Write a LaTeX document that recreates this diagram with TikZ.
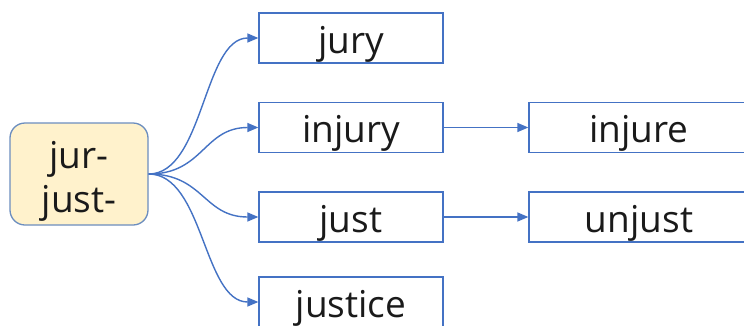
\documentclass[tikz,border=0pt]{standalone}
\usepackage{fontspec}
\setmainfont{Open Sans}
\usetikzlibrary{arrows.meta}
\definecolor{lineblue}{HTML}{4472C4}
\definecolor{rootfill}{HTML}{FFF2CC}
\definecolor{rootdraw}{HTML}{6C8EBF}
\definecolor{txt}{HTML}{1A1A1A}
\begin{document}
\begin{tikzpicture}[x=1pt,y=-1pt,
  wordbox/.style={draw=lineblue, line width=1.3pt, fill=white, rectangle,
    minimum width=184pt, minimum height=50pt, inner sep=0pt,
    text height=35pt, text depth=5pt, text=txt,
    font=\fontsize{37}{42}\selectfont},
  widebox/.style={wordbox, minimum width=220pt},
  rootbox/.style={draw=rootdraw, line width=1.3pt, fill=rootfill, rectangle,
    rounded corners=15pt, minimum width=138pt, minimum height=102pt,
    inner sep=0pt, align=center, text=txt,
    font=\fontsize{37}{44}\selectfont},
  link/.style={draw=lineblue, line width=1.4pt,
    -{Triangle[length=11pt,width=9pt]}}
]
\clip (0,0) rectangle (744,325);
\fill[white] (0,0) rectangle (744,325);
\node[rootbox] (root) at (79,174) {\rule{0pt}{41pt}jur-\\just-};
\node[wordbox] (jury) at (351,38) {jury};
\node[wordbox] (injury) at (351,127.5) {injury};
\node[wordbox] (just) at (351,217) {just};
\node[wordbox] (justice) at (351,302) {justice};
\node[widebox] (injure) at (639,127.5) {injure};
\node[widebox] (unjust) at (639,217) {unjust};
\foreach \t in {jury,injury,just,justice}
  \draw[link] (root.east) .. controls +(55,0) and +(-55,0) .. (\t.west);
\draw[link] (injury.east) -- (injure.west);
\draw[link] (just.east) -- (unjust.west);
\end{tikzpicture}
\end{document}
